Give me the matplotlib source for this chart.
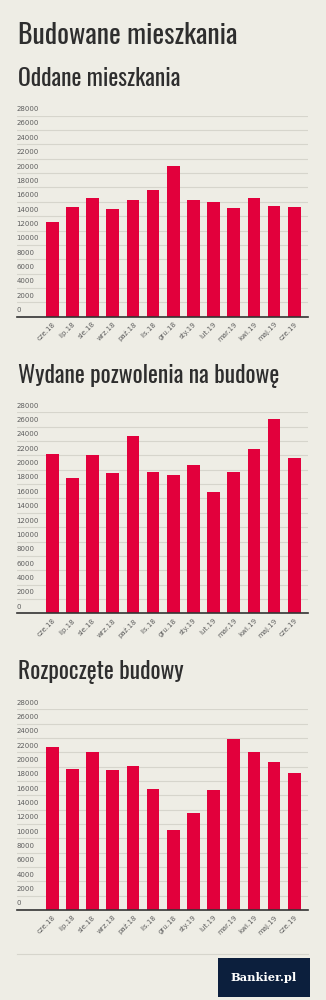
import matplotlib
matplotlib.use("Agg")
import matplotlib.pyplot as plt
from matplotlib.patches import Rectangle
from matplotlib.lines import Line2D
from matplotlib.transforms import blended_transform_factory

# -----------------------------
# Data
# -----------------------------
months = ["cze.18", "lip.18", "sie.18", "wrz.18", "paź.18", "lis.18", "gru.18",
          "sty.19", "lut.19", "mar.19", "kwi.19", "maj.19", "cze.19"]

oddane = [13200, 15300, 16600, 15000, 16300, 17700, 21000,
          16300, 16000, 15100, 16600, 15400, 15300]
pozwolenia = [22200, 18900, 22000, 19600, 24700, 19700, 19300,
              20600, 16900, 19700, 22900, 27000, 21700]
rozpoczete = [22800, 19700, 22000, 19500, 20100, 16900, 11200,
              13500, 16700, 23800, 22000, 20700, 19100]

titles = ["Oddane mieszkania", "Wydane pozwolenia na budowę", "Rozpoczęte budowy"]
main_title = "Budowane mieszkania"
yticks = list(range(0, 28001, 2000))

# -----------------------------
# Style
# -----------------------------
bg = "#eeede5"
bar_color = "#e2003c"
text_dark = "#2e2e2e"
tick_grey = "#5e5e5e"
grid_grey = "#d6d5cc"

fig = plt.figure(figsize=(3.26, 10.0), dpi=100, facecolor=bg)

title_font = dict(family=["Oswald", "DejaVu Sans"], color=text_dark)

fig.text(18 / 326, 1 - 44 / 1000, main_title, fontsize=20, ha="left",
         va="baseline", **title_font)

# axes boxes in pixels: (top, bottom) and title baseline
panels = [
    (oddane, 115.7, 316.7, 86),
    (pozwolenia, 412.3, 613.3, 383),
    (rozpoczete, 709.3, 910.0, 679),
]
left_px, right_px = 16.7, 308.0
W, H = 326.0, 1000.0

for (values, top, bottom, title_y), title in zip(panels, titles):
    ax = fig.add_axes([left_px / W, 1 - bottom / H,
                       (right_px - left_px) / W, (bottom - top) / H])
    ax.set_facecolor(bg)
    x = list(range(len(months)))
    ax.bar(x, values, width=0.63, color=bar_color, zorder=2)

    ax.set_ylim(0, 28000)
    ax.set_xlim(-1.76, 12.68)
    ax.set_yticks(yticks)
    ax.set_yticklabels([])
    ax.tick_params(axis="y", length=0)
    ax.yaxis.grid(True, color=grid_grey, lw=0.8, zorder=0)
    ax.set_axisbelow(True)

    # y labels sit inside the plot, just above each gridline
    trans = blended_transform_factory(ax.transAxes, ax.transData)
    for t in yticks:
        ax.text(0.0, t + 500, str(t), transform=trans, fontsize=5,
                color=tick_grey, ha="left", va="bottom", clip_on=False)

    ax.set_xticks(x)
    ax.set_xticklabels(months, rotation=45, ha="right",
                       rotation_mode="anchor", fontsize=5, color=tick_grey)
    ax.tick_params(axis="x", length=0, pad=3)

    for s in ["top", "right", "left"]:
        ax.spines[s].set_visible(False)
    ax.spines["bottom"].set_color("#333333")
    ax.spines["bottom"].set_linewidth(1.2)
    ax.spines["bottom"].set_zorder(3)

    fig.text(18 / W, 1 - title_y / H, title, fontsize=17, ha="left",
             va="baseline", **title_font)

# separator line and logo
fig.add_artist(Line2D([17 / W, 308 / W], [1 - 954 / H, 1 - 954 / H],
                      color=grid_grey, lw=0.8))
fig.add_artist(Rectangle((218 / W, 1 - 997 / H), 92 / W, 39 / H,
                         facecolor="#0c1f3d", edgecolor="none"))
fig.text(264 / W, 1 - 977.5 / H, "Bankier.pl", fontsize=8.2, color="white",
         family="DejaVu Serif", weight="bold", ha="center", va="center")

fig.savefig("out.png", dpi=100, facecolor=bg)
